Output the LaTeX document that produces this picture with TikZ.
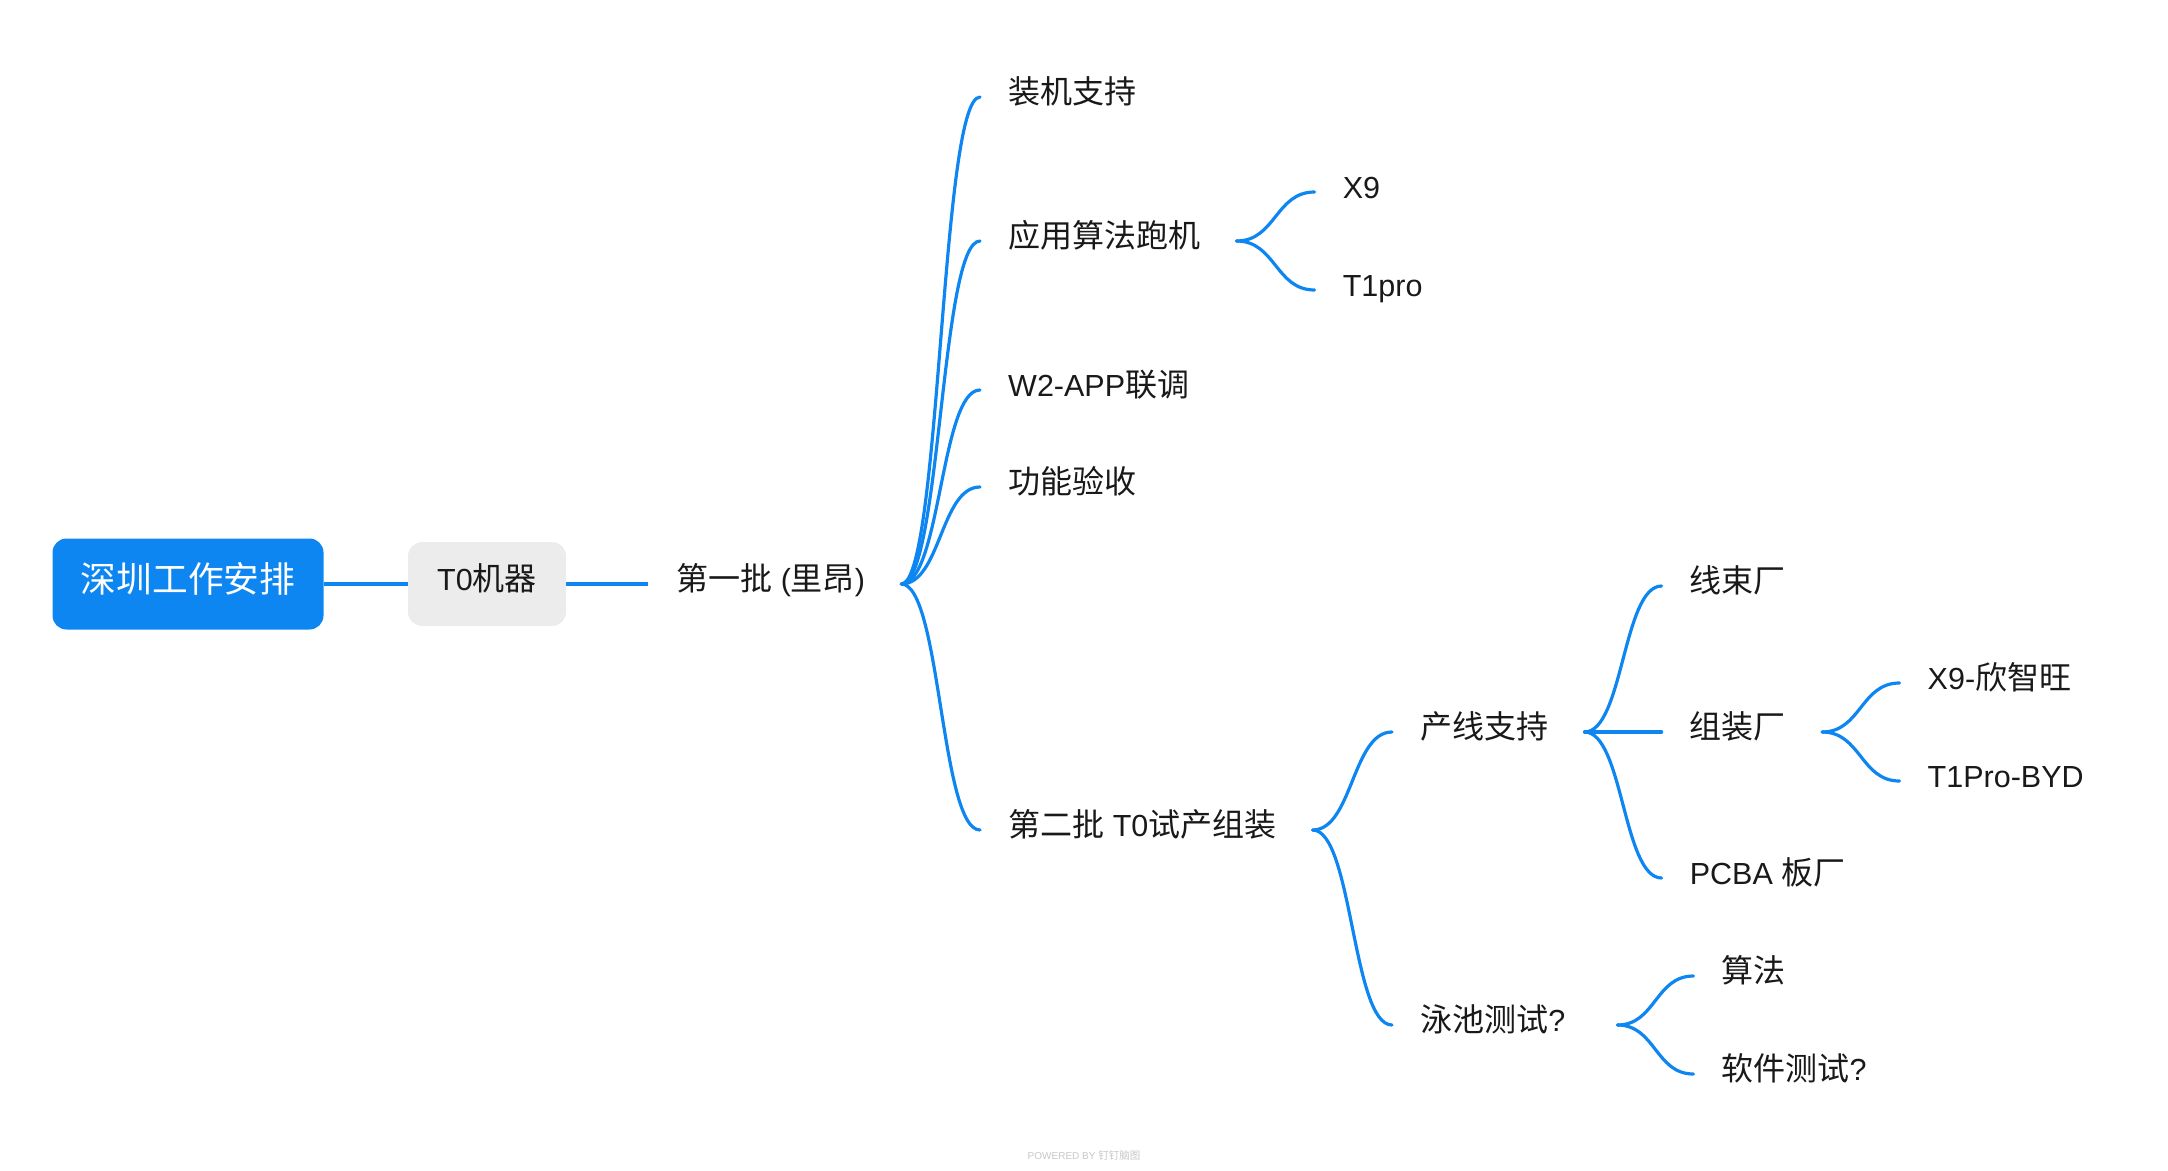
\documentclass[tikz,border=0pt]{standalone}
\usepackage{fontspec}
\setmainfont{Liberation Sans}
\newfontfamily\cjk[Scale=1.05]{Noto Sans CJK SC}
\usetikzlibrary{calc}

\definecolor{mmblue}{RGB}{14,134,242}
\definecolor{mmgray}{RGB}{236,236,236}
\definecolor{mmtext}{RGB}{25,25,25}

% curved branch from the right side of a parent topic to the left side of a child topic
\newcommand\mmlink[3][36]{%
  \path ([xshift=#1pt]#2.east) coordinate (ls) ([xshift=-28pt]#3.west) coordinate (le);
  \coordinate (lm) at ($(ls)!0.5!(le)$);
  \draw[link] (ls) .. controls (lm |- ls) and (lm |- le) .. (le);}

\begin{document}
\begin{tikzpicture}[x=1pt,y=-1pt,
  every node/.style={font=\fontsize{30.5}{36}\selectfont, text=mmtext},
  topic/.style={inner sep=0pt, anchor=west, text height=26pt, text depth=14pt},
  link/.style={draw=mmblue, line width=3.2pt, line cap=round},
  trunk/.style={draw=mmblue, line width=4pt}]

\useasboundingbox (0,0) rectangle (2168,1170);

% central topic and first level
\node[fill=mmblue, rounded corners=14pt, minimum width=271pt, minimum height=91pt,
      inner sep=0pt, text=white, text height=30pt, text depth=14pt,
      font=\fontsize{34}{40}\selectfont] (root) at (188,584) {\cjk 深圳工作安排};
\node[fill=mmgray, rounded corners=14pt, minimum width=158pt, minimum height=84pt,
      inner sep=0pt, text height=26pt, text depth=14pt] (t0) at (487,584) {T0{\cjk 机器}};
\node[topic] (n1) at (676,584) {{\cjk 第一批} ({\cjk 里昂})};

\draw[trunk] (root.east) -- (t0.west);
\draw[trunk] (t0.east) -- ([xshift=-28pt]n1.west);

% second level
\node[topic] (a1) at (1008,97)  {\cjk 装机支持};
\node[topic] (a2) at (1008,241) {\cjk 应用算法跑机};
\node[topic] (a3) at (1008,390) {W2-APP{\cjk 联调}};
\node[topic] (a4) at (1008,487) {\cjk 功能验收};
\node[topic] (a5) at (1008,830) {{\cjk 第二批} T0{\cjk 试产组装}};

% third level
\node[topic] (b1) at (1342.6,192) {X9};
\node[topic] (b2) at (1342.6,290) {T1pro};
\node[topic] (c1) at (1420,732)  {\cjk 产线支持};
\node[topic] (c2) at (1420,1025) {{\cjk 泳池测试}?};

% fourth level
\node[topic] (d1) at (1689.6,586) {\cjk 线束厂};
\node[topic] (d2) at (1689.6,732) {\cjk 组装厂};
\node[topic] (d3) at (1689.6,878) {PCBA {\cjk 板厂}};
\node[topic] (f1) at (1721.4,976)  {\cjk 算法};
\node[topic] (f2) at (1721.4,1074) {{\cjk 软件测试}?};

% fifth level
\node[topic] (e1) at (1927.5,683) {X9-{\cjk 欣智旺}};
\node[topic] (e2) at (1927.5,781) {T1Pro-BYD};

% branches
\mmlink{n1}{a1}
\mmlink{n1}{a2}
\mmlink{n1}{a3}
\mmlink{n1}{a4}
\mmlink{n1}{a5}
\mmlink{a2}{b1}
\mmlink{a2}{b2}
\mmlink{a5}{c1}
\mmlink{a5}{c2}
\mmlink{c1}{d1}
\mmlink{c1}{d2}
\mmlink{c1}{d3}
\mmlink{d2}{e1}
\mmlink{d2}{e2}
\mmlink[52]{c2}{f1}
\mmlink[52]{c2}{f2}

% footer mark
\node[font=\fontsize{10}{12}\selectfont, text=black!22] (wm) at (1084,1156) {POWERED BY {\cjk 钉钉脑图}};
\end{tikzpicture}
\end{document}
